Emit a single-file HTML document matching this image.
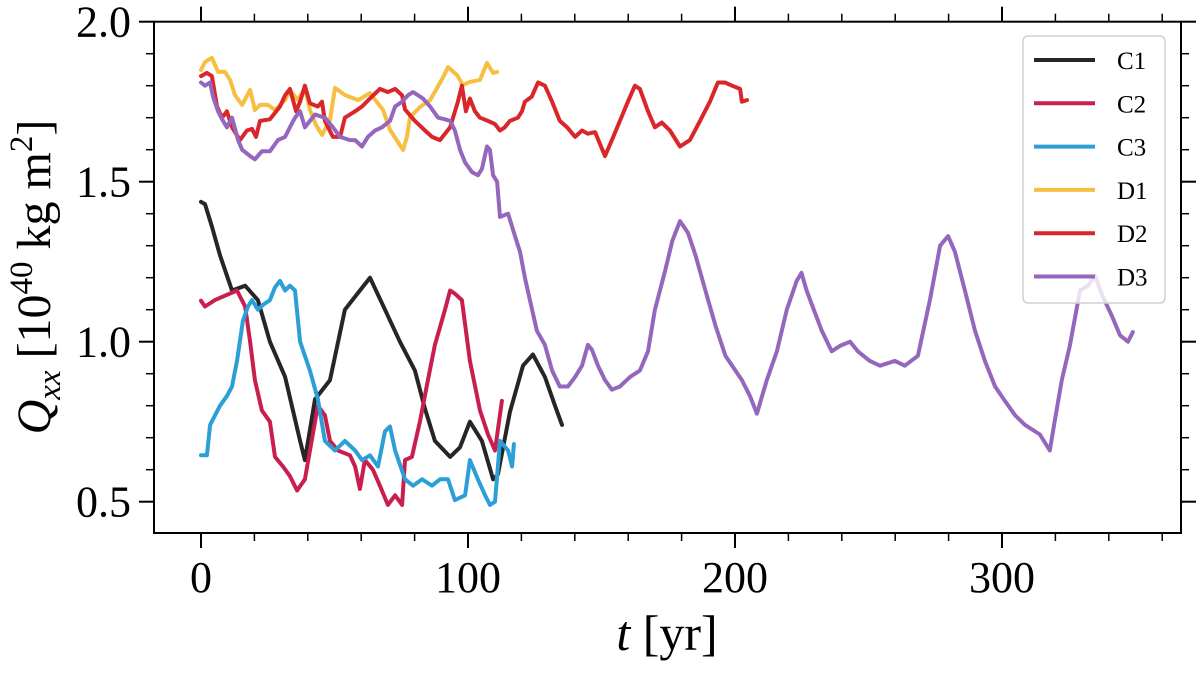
<!DOCTYPE html>
<html><head><meta charset="utf-8">
<style>
html,body{margin:0;padding:0;background:#fff;}
svg{display:block;}
text{font-family:"Liberation Serif",serif;fill:#000;}
</style></head>
<body>
<svg id="chart" width="1200" height="673" viewBox="0 0 1200 673" xmlns="http://www.w3.org/2000/svg">
  <g id="series"></g>
  <rect x="154" y="21.7" width="1027" height="511.3" fill="none" stroke="#000" stroke-width="2"/>
  <g id="axes"></g>
  <g id="legend"></g>
  <text x="667" y="650" font-size="50" text-anchor="middle"><tspan font-style="italic">t</tspan> [yr]</text>
  <text transform="translate(50,277) rotate(-90)" font-size="48" text-anchor="middle"><tspan font-style="italic">Q</tspan><tspan font-style="italic" font-size="33" dy="10">xx</tspan><tspan dy="-10"> [10</tspan><tspan font-size="33" dy="-18">40</tspan><tspan dy="18"> kg m</tspan><tspan font-size="33" dy="-18">2</tspan><tspan dy="18">]</tspan></text>
</svg>
<script>
const xTicks = [0, 100, 200, 300];
const xMinor = [20, 40, 60, 80, 120, 140, 160, 180, 220, 240, 260, 280, 320, 340, 360];
const yTicks = [0.5, 1.0, 1.5, 2.0];
const yTickLabels = ["0.5", "1.0", "1.5", "2.0"];
const yMinor = [0.6, 0.7, 0.8, 0.9, 1.1, 1.2, 1.3, 1.4, 1.6, 1.7, 1.8, 1.9];
const seriesNames = ["C1", "C2", "C3", "D1", "D2", "D3"];
const seriesColors = ["#262626", "#c81f4f", "#2b9fd6", "#f5bf42", "#d9262a", "#9467bd"];

const c1 = [[0,1.437],[1.5,1.43],[4.1,1.36],[7.1,1.27],[11.6,1.16],[16.5,1.175],[21.3,1.13],[25.8,1.0],[31.5,0.89],[37.1,0.69],[38.9,0.63],[42.7,0.82],[48.3,0.88],[53.9,1.1],[59.5,1.16],[63.3,1.2],[68.9,1.1],[74.5,1.0],[80.1,0.91],[83.9,0.79],[87.6,0.69],[93.3,0.64],[97,0.67],[100.7,0.75],[105.2,0.69],[109.4,0.57],[111.2,0.585],[115.7,0.78],[120.6,0.925],[124.3,0.96],[128.8,0.89],[132.6,0.8],[135.2,0.74]];
const c2 = [[0,1.128],[1.5,1.11],[5.2,1.13],[13.5,1.16],[16.5,1.11],[18.4,1.0],[20.2,0.88],[22.8,0.785],[25.8,0.75],[27.7,0.64],[30.7,0.61],[33.3,0.58],[36,0.535],[38.9,0.57],[42.7,0.75],[43.8,0.8],[46.4,0.77],[48.3,0.69],[51.3,0.66],[55.8,0.645],[57.7,0.61],[59.5,0.54],[61.4,0.63],[64.4,0.6],[67,0.55],[70,0.49],[72.7,0.52],[75.3,0.49],[76.4,0.63],[79,0.64],[82,0.75],[85,0.88],[87.6,0.99],[91.4,1.1],[93.3,1.16],[95.1,1.15],[97.7,1.13],[100.7,0.94],[104.5,0.785],[107.5,0.71],[110.1,0.66],[112.7,0.815]];
const c3 = [[0,0.645],[2.2,0.645],[3.4,0.74],[7.1,0.8],[9.7,0.83],[11.6,0.86],[13.5,0.94],[15.7,1.065],[17.6,1.11],[19.1,1.13],[21.3,1.1],[23.2,1.115],[25.8,1.13],[27.7,1.17],[29.6,1.19],[31.5,1.16],[33.3,1.175],[35.2,1.16],[37.1,1.0],[40.8,0.91],[43.8,0.82],[46.4,0.69],[50.2,0.66],[53.9,0.69],[57.7,0.66],[60.3,0.63],[63.3,0.645],[66.3,0.61],[68.9,0.72],[70.8,0.735],[72.7,0.66],[76.4,0.57],[79.4,0.55],[82.8,0.57],[86.5,0.55],[89.5,0.57],[92.5,0.57],[95.1,0.505],[98.9,0.52],[100.7,0.63],[103.7,0.57],[106.4,0.52],[108.2,0.49],[110.1,0.5],[112,0.69],[115,0.66],[116.5,0.61],[117.2,0.68]];
const d1 = [[0,1.849],[1.5,1.874],[4.1,1.887],[6.4,1.843],[9,1.843],[10.9,1.818],[12.7,1.771],[15.4,1.74],[18.4,1.787],[20.2,1.724],[22.1,1.74],[25.1,1.74],[27.7,1.724],[29.6,1.74],[31.5,1.755],[33.3,1.787],[36.3,1.755],[38.9,1.793],[40.8,1.724],[43.1,1.677],[45.3,1.646],[48.3,1.693],[50.2,1.793],[53.9,1.771],[58.8,1.755],[63.3,1.777],[68.2,1.724],[70.8,1.662],[75.7,1.599],[77.1,1.64],[78.3,1.702],[82,1.733],[85.8,1.755],[90.7,1.827],[92.5,1.858],[95.9,1.833],[98.1,1.802],[100.7,1.812],[104.5,1.818],[107.1,1.871],[109.4,1.84],[110.9,1.843]];
const d2t = [0,2.2,4.1,6,7.9,9.7,11.6,14.6,17.2,19.1,20.6,22.1,25.8,29.6,31.5,33.3,35.6,37.1,38.9,40.8,43.8,45.3,46.4,49.4,52.1,53.9,57.7,60.3,64,67,70,72.7,75.3,76.4,80.1,83.9,86.5,89.5,93.3,96.2,97.7,99.2,100.7,102.6,104.5,107.5,110.1,112,113.8,115.7,118.7,120.2,121.3,123.9,126.2,128.8,131.5,134.4,137.1,140.1,142.7,144.9,147.6,151.3,153.9,156.9,159.9,162.5,164.4,167.4,170,172.6,175.6,179.4,183.1,186.9,190.6,193.6,196.2,198.9,201.9,202.6,204.5];
const d2v = [1.83,1.84,1.83,1.735,1.7,1.72,1.67,1.63,1.66,1.665,1.64,1.69,1.695,1.735,1.77,1.79,1.72,1.75,1.8,1.745,1.735,1.75,1.69,1.64,1.64,1.7,1.72,1.735,1.766,1.79,1.78,1.79,1.77,1.726,1.69,1.66,1.64,1.63,1.67,1.75,1.8,1.72,1.76,1.72,1.7,1.69,1.68,1.66,1.67,1.69,1.7,1.72,1.75,1.766,1.81,1.8,1.75,1.69,1.67,1.64,1.66,1.65,1.655,1.58,1.63,1.69,1.75,1.8,1.79,1.72,1.67,1.685,1.66,1.61,1.63,1.69,1.75,1.81,1.81,1.8,1.79,1.75,1.755];
const d3 = [[0,1.81],[1.5,1.8],[3.4,1.81],[4.5,1.766],[6.4,1.72],[7.9,1.695],[9.7,1.67],[11.6,1.7],[13.9,1.63],[15.4,1.6],[18.4,1.58],[20.2,1.57],[22.8,1.595],[25.8,1.595],[28.8,1.63],[31.5,1.64],[33.3,1.67],[35.2,1.7],[37.1,1.72],[38.9,1.67],[42.7,1.71],[46.4,1.7],[49.4,1.67],[52.1,1.64],[55.8,1.63],[57.7,1.63],[60.3,1.61],[62.5,1.64],[65.2,1.66],[67.8,1.67],[70.8,1.69],[72.7,1.735],[75.3,1.75],[77.5,1.77],[79.4,1.78],[81.3,1.77],[83.1,1.76],[85.8,1.735],[88.8,1.7],[91.4,1.695],[93.3,1.69],[95.1,1.66],[97,1.6],[98.9,1.56],[101.5,1.53],[103.7,1.52],[105.2,1.54],[107.1,1.61],[108.2,1.6],[109.4,1.52],[110.9,1.5],[112,1.39],[115,1.4],[117.6,1.33],[119.5,1.28],[121.3,1.2],[123.2,1.13],[125.8,1.034],[128.8,0.99],[131.5,0.91],[134.4,0.86],[137.4,0.86],[140.1,0.89],[142.7,0.925],[144.9,0.99],[146.4,0.975],[148.7,0.925],[151.3,0.88],[153.9,0.85],[156.9,0.86],[160.7,0.89],[164.4,0.91],[167.4,0.97],[170,1.1],[173.8,1.22],[176.5,1.315],[179.4,1.377],[182.4,1.34],[185.2,1.27],[188.9,1.16],[192.7,1.05],[196.4,0.956],[202.6,0.88],[205.6,0.83],[208.2,0.775],[211.9,0.88],[215.7,0.97],[219.4,1.1],[223.1,1.19],[224.9,1.215],[226.8,1.16],[229.5,1.1],[232.5,1.034],[236.2,0.97],[239.3,0.987],[243.1,1.0],[246,0.97],[250.5,0.94],[254.3,0.925],[259.9,0.94],[263.6,0.925],[268.5,0.956],[273,1.13],[276.8,1.3],[279.8,1.33],[282.4,1.28],[286.1,1.16],[289.9,1.034],[293.6,0.94],[297.4,0.86],[301.1,0.815],[304.9,0.77],[308.6,0.74],[314.2,0.71],[317.9,0.66],[319.8,0.755],[322.4,0.88],[325.4,0.987],[329.2,1.16],[332.2,1.175],[334.8,1.206],[337.8,1.14],[341.2,1.08],[344.2,1.02],[347.2,1.0],[349,1.03]];

const NS = "http://www.w3.org/2000/svg";
const X0 = 201, XS = 2.67;
const Y0 = 21.7, YS = 320;
const xPx = t => X0 + XS * t;
const yPx = v => Y0 + YS * (2.0 - v);
const L = 154, R = 1181, T = 21.7, B = 533;

function mk(tag, attrs, parent) {
  const e = document.createElementNS(NS, tag);
  for (const k in attrs) e.setAttribute(k, attrs[k]);
  parent.appendChild(e);
  return e;
}

const d2 = d2t.map((t, i) => [t, d2v[i]]);
const allSeries = [c1, c2, c3, d1, d2, d3];
const sg = document.getElementById("series");
allSeries.forEach((s, i) => {
  const d = s.map((p, j) => (j ? "L" : "M") + xPx(p[0]).toFixed(1) + " " + yPx(p[1]).toFixed(1)).join(" ");
  const p = mk("path", {d: d, fill: "none", stroke: seriesColors[i], "stroke-width": 4, "stroke-linejoin": "round", "stroke-linecap": "round"}, sg);
  
  
});

const ax = document.getElementById("axes");
xTicks.forEach(t => {
  const x = xPx(t);
  const a = mk("line", {x1: x, x2: x, y1: B, y2: B + 15, stroke: "#000", "stroke-width": 2}, ax);
  
  
  const b = mk("line", {x1: x, x2: x, y1: T, y2: T - 15, stroke: "#000", "stroke-width": 2}, ax);
  
  
  const lb = mk("text", {x: x, y: 592, "font-size": 44, "text-anchor": "middle"}, ax);
  lb.textContent = String(t);
  
  
});
xMinor.forEach(t => {
  const x = xPx(t);
  const a = mk("line", {x1: x, x2: x, y1: B, y2: B + 8, stroke: "#000", "stroke-width": 1.5}, ax);
  
  
  const b = mk("line", {x1: x, x2: x, y1: T, y2: T - 8, stroke: "#000", "stroke-width": 1.5}, ax);
  
  
});
yTicks.forEach((v, i) => {
  const y = yPx(v);
  const a = mk("line", {x1: L, x2: L - 15, y1: y, y2: y, stroke: "#000", "stroke-width": 2}, ax);
  
  
  const b = mk("line", {x1: R, x2: R + 15, y1: y, y2: y, stroke: "#000", "stroke-width": 2}, ax);
  
  
  const lb = mk("text", {x: 131, y: y + 15, "font-size": 44, "text-anchor": "end"}, ax);
  lb.textContent = yTickLabels[i];
  
  
});
yMinor.forEach(v => {
  const y = yPx(v);
  const a = mk("line", {x1: L, x2: L - 8, y1: y, y2: y, stroke: "#000", "stroke-width": 1.5}, ax);
  
  
  const b = mk("line", {x1: R, x2: R + 8, y1: y, y2: y, stroke: "#000", "stroke-width": 1.5}, ax);
  
  
});

const lg = document.getElementById("legend");
const box = mk("rect", {x: 1023, y: 36, width: 142, height: 267, rx: 5, fill: "rgba(255,255,255,0.8)", stroke: "#d0d0d0", "stroke-width": 1.5}, lg);


seriesNames.forEach((n, i) => {
  const y = 60 + i * 43.3;
  const ln = mk("line", {x1: 1034, x2: 1095, y1: y, y2: y, stroke: seriesColors[i], "stroke-width": 4}, lg);
  
  
  const tx = mk("text", {x: 1117, y: y + 9, "font-size": 25}, lg);
  tx.textContent = n;
  
  
});
</script>
</body></html>
